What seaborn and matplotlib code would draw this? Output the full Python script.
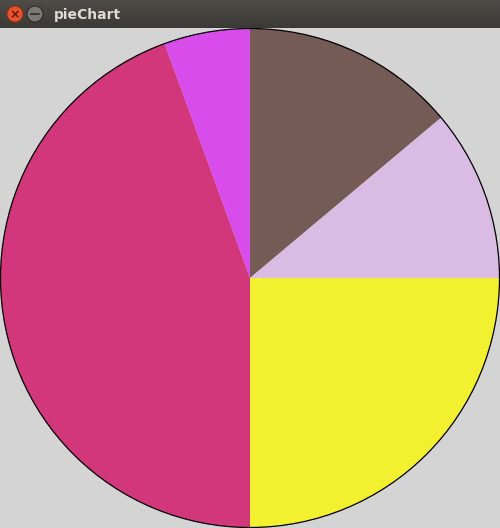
import numpy as np
import matplotlib
matplotlib.use("Agg")
import matplotlib.pyplot as plt
import seaborn as sns
from matplotlib.patches import Circle

# pie data, clockwise from 12 o'clock
labels = ["A", "B", "C", "D", "E"]
values = [5, 4, 9, 16, 2]
colors = ["#745b55", "#dabbe3", "#f3f030", "#d1377a", "#d84ceb"]

sns.set_theme(style="white")
plt.rcParams["font.family"] = ["DejaVu Sans"]

W, H = 500, 528
fig = plt.figure(figsize=(W / 100, H / 100), dpi=100)
fig.patch.set_facecolor("#d4d4d4")

# window title bar
bar = fig.add_axes([0, (H - 28) / H, 1, 28 / H])
grad = np.linspace(0, 1, 28).reshape(-1, 1)
bar.imshow(grad, aspect="auto", cmap=matplotlib.colors.LinearSegmentedColormap.from_list(
    "tb", ["#4d4c47", "#3a3935"]), extent=[0, W, 28, 0])
bar.set_xlim(0, W)
bar.set_ylim(28, 0)
bar.axis("off")
bar.add_patch(Circle((15, 14), 8, color="#e9532a", ec="#8a3418", lw=0.8))
bar.text(15, 14.5, "×", color="#5a1a0a", ha="center", va="center", fontsize=9, fontweight="bold")
bar.add_patch(Circle((35, 14), 8, color="#7a7973", ec="#2c2b28", lw=0.8))
bar.plot([31, 39], [14, 14], color="#3a3935", lw=1.5)
bar.text(54, 14.5, "pieChart", color="#dfdbd2", ha="left", va="center", fontsize=10, fontweight="bold")

# pie
ax = fig.add_axes([0, 0, 1, (H - 28) / H])
ax.pie(values, colors=colors, startangle=90, counterclock=False,
       wedgeprops=dict(linewidth=0), radius=1)
ax.add_patch(Circle((0, 0), 1, fill=False, ec="black", lw=0.9))
ax.set_xlim(-1.002, 1.002)
ax.set_ylim(-1.002, 1.002)
ax.set_aspect("equal")
ax.axis("off")

fig.savefig("out.png", dpi=100, facecolor=fig.get_facecolor())
